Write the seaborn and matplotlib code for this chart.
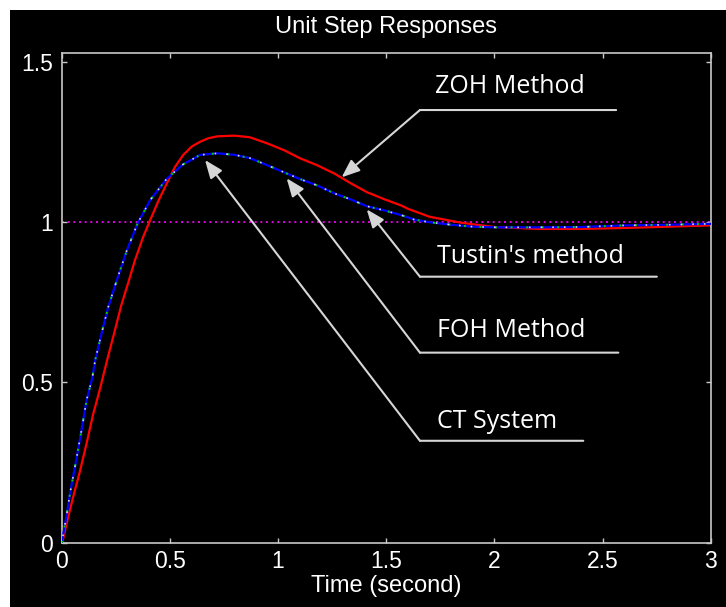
import matplotlib
matplotlib.use("Agg")
import matplotlib.pyplot as plt
import seaborn as sns
from matplotlib.patches import Rectangle

# ---------------- data ----------------
t_ct = [0.0, 0.02, 0.04, 0.065, 0.09, 0.115, 0.14, 0.155, 0.185, 0.215, 0.26, 0.30,
        0.35, 0.41, 0.485, 0.56, 0.64, 0.72, 0.80, 0.87, 0.95, 1.03, 1.10, 1.18,
        1.26, 1.34, 1.41, 1.49, 1.57, 1.63, 1.70, 1.80, 1.90, 2.0, 2.2, 2.4, 2.6,
        2.8, 3.0]
y_ct = [0.0, 0.075, 0.16, 0.25, 0.345, 0.445, 0.51, 0.57, 0.655, 0.735, 0.83, 0.91,
        0.995, 1.07, 1.135, 1.18, 1.21, 1.215, 1.21, 1.20, 1.178, 1.155, 1.135, 1.115,
        1.09, 1.07, 1.05, 1.037, 1.022, 1.008, 1.0, 0.992, 0.986, 0.984, 0.984, 0.985,
        0.99, 0.992, 0.995]
# FOH and Tustin responses coincide with the CT response at this scale
t_foh = list(t_ct)
y_foh = list(y_ct)
t_tustin = list(t_ct)
y_tustin = list(y_ct)

t_zoh = [0.0, 0.006, 0.03, 0.052, 0.085, 0.115, 0.145, 0.177, 0.21, 0.245, 0.275, 0.307,
         0.338, 0.376, 0.408, 0.448, 0.485, 0.524, 0.562, 0.601, 0.64, 0.678, 0.72, 0.80,
         0.87, 0.95, 1.03, 1.10, 1.18, 1.26, 1.34, 1.41, 1.49, 1.57, 1.60, 1.70, 1.85,
         2.0, 2.2, 2.4, 2.6, 2.8, 3.0]
y_zoh = [0.0, 0.01, 0.08, 0.14, 0.225, 0.31, 0.40, 0.48, 0.57, 0.66, 0.74, 0.81,
         0.88, 0.953, 1.005, 1.068, 1.12, 1.173, 1.21, 1.236, 1.251, 1.262, 1.268, 1.27,
         1.265, 1.246, 1.224, 1.20, 1.178, 1.152, 1.12, 1.094, 1.072, 1.052, 1.042, 1.017,
         0.998, 0.985, 0.979, 0.979, 0.982, 0.986, 0.99]

reference_level = 1.0

x_ticks = [0, 0.5, 1, 1.5, 2, 2.5, 3]
x_tick_labels = ["0", "0.5", "1", "1.5", "2", "2.5", "3"]
y_ticks = [0, 0.5, 1, 1.5]
y_tick_labels = ["0", "0.5", "1", "1.5"]

labels = ["ZOH Method", "Tustin's method", "FOH Method", "CT System"]
# arrow tip (data), underline left start / right end (data), text baseline (data)
arrow_tips = [(1.294, 1.140), (1.41, 1.040), (1.04, 1.137), (0.6625, 1.194)]
underline_y = [1.350, 0.830, 0.593, 0.318]
underline_x0 = [1.656, 1.656, 1.656, 1.656]
underline_x1 = [2.563, 2.751, 2.573, 2.411]
text_x = [1.726, 1.734, 1.734, 1.734]
text_y = [1.402, 0.872, 0.641, 0.357]

# ---------------- figure ----------------
W, H = 726, 607
fig = plt.figure(figsize=(W / 100, H / 100), dpi=100)
fig.patch.set_facecolor("white")
fig.patches.append(Rectangle((10 / W, 0), (W - 10) / W, (H - 9.5) / H,
                             transform=fig.transFigure, facecolor="black",
                             edgecolor="none", zorder=-10))

ax = fig.add_axes([61.7 / W, 1 - 542.7 / H, 649 / W, (542.7 - 53.3) / H])
ax.set_facecolor("black")

spine_col = "#c8c8c8"
tick_font = "Liberation Sans"

ax.axhline(reference_level, color="#ff00ff", lw=1.2, linestyle=(0, (1.2, 2.2)), zorder=1)

sns.lineplot(x=t_zoh, y=y_zoh, ax=ax, color="#ff0000", lw=1.6, zorder=2, estimator=None)
sns.lineplot(x=t_foh, y=y_foh, ax=ax, color="#0000ff", lw=1.6, zorder=3, estimator=None)
sns.lineplot(x=t_ct, y=y_ct, ax=ax, color="#00d000", lw=1.4, zorder=4, estimator=None,
             linestyle=(0, (1, 7)))
sns.lineplot(x=t_tustin, y=y_tustin, ax=ax, color="#d8d8d8", lw=1.2, zorder=5,
             estimator=None, linestyle=(3, (1, 6)))

ax.set_xlim(0, 3)
ax.set_ylim(0, 1.527)
ax.set_xticks(x_ticks)
ax.set_xticklabels(x_tick_labels)
ax.set_yticks(y_ticks)
ax.set_yticklabels(y_tick_labels)

for s in ax.spines.values():
    s.set_color(spine_col)
    s.set_linewidth(1.2)
    s.set_visible(True)

ax.tick_params(axis="both", direction="in", length=3.8, width=1, color=spine_col,
               labelcolor="white", labelsize=16.5, top=True, right=True)
ax.tick_params(axis="x", pad=5.5)
ax.tick_params(axis="y", pad=6.3)
for lab in ax.get_xticklabels() + ax.get_yticklabels():
    lab.set_fontfamily(tick_font)

ax.set_title("Unit Step Responses", color="white", fontsize=17, family=tick_font, pad=14.5)
ax.set_xlabel("Time (second)", color="white", fontsize=17, family=tick_font, labelpad=1)
ax.set_ylabel("")

arrow_col = "#d6d6d6"
for i, lab in enumerate(labels):
    ax.annotate("", xy=(underline_x1[i], underline_y[i]),
                xytext=(underline_x0[i], underline_y[i]),
                arrowprops=dict(arrowstyle="-", color=arrow_col, lw=1.5,
                                shrinkA=0, shrinkB=0), zorder=6)
    ax.annotate("", xy=arrow_tips[i], xytext=(underline_x0[i], underline_y[i]),
                arrowprops=dict(arrowstyle="-|>,head_length=0.55,head_width=0.22",
                                mutation_scale=20, color=arrow_col, lw=1.5,
                                shrinkA=0, shrinkB=0), zorder=6)
    ax.text(text_x[i], text_y[i], lab, color="white", fontsize=18, family="Open Sans",
            va="baseline", ha="left", zorder=7)

fig.savefig("out.png", dpi=100, facecolor=fig.get_facecolor())
